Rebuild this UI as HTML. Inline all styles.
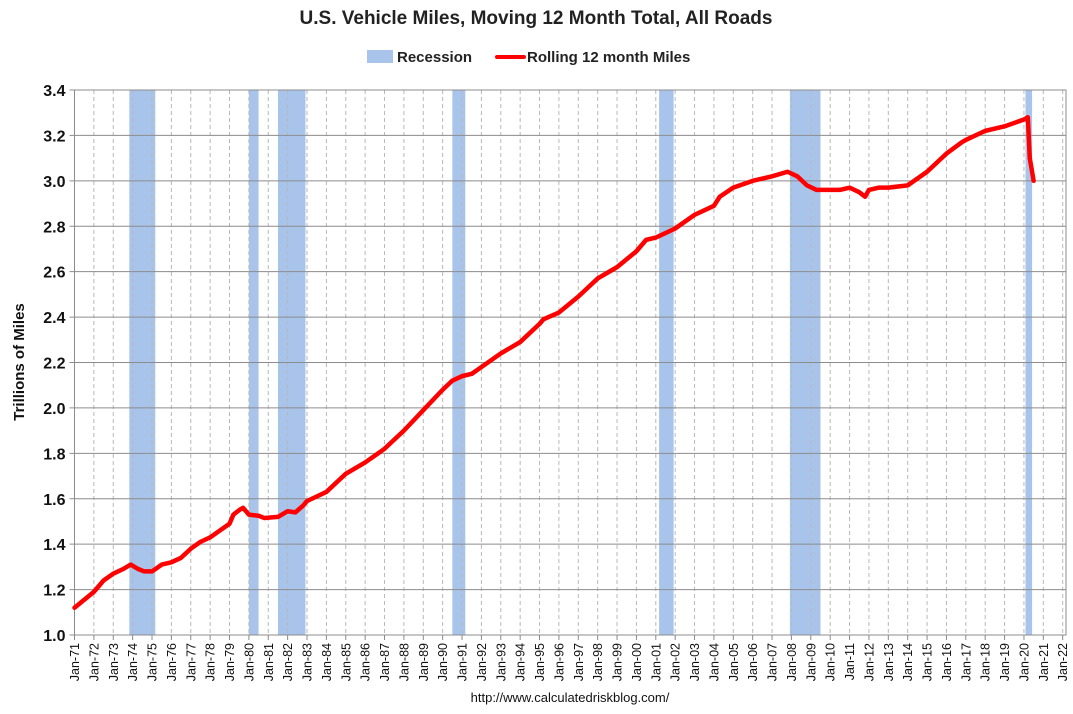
<!DOCTYPE html>
<html><head><meta charset="utf-8"><style>
body{margin:0;background:#fff;font-family:"Liberation Sans",Arial,sans-serif}
svg text{font-family:"Liberation Sans",Arial,sans-serif}
</style></head><body>
<svg id="chart" width="1073" height="709" xmlns="http://www.w3.org/2000/svg">
<text x="536" y="24" text-anchor="middle" font-size="19" font-weight="bold" fill="#222">U.S. Vehicle Miles, Moving 12 Month Total, All Roads</text>
<g>
<rect x="367" y="50" width="26" height="13" fill="#a9c4ea"/>
<text x="397" y="62" font-size="15" font-weight="bold" fill="#222">Recession</text>
<line x1="497" y1="57" x2="524" y2="57" stroke="#f00" stroke-width="4" stroke-linecap="round"/>
<text x="527" y="62" font-size="15" font-weight="bold" fill="#222">Rolling 12 month Miles</text>
</g>
<text transform="translate(24,362) rotate(-90)" text-anchor="middle" font-size="15" font-weight="bold" fill="#111">Trillions of Miles</text>
<text x="570" y="702" text-anchor="middle" font-size="13" fill="#111">http://www.calculatedriskblog.com/</text>
<g id="plot"></g>
</svg>
<script>
const recessionStarts=[1973.83,1980.0,1981.5,1990.5,2001.17,2007.92,2020.08];
const recessionEnds=[1975.17,1980.5,1982.92,1991.17,2001.92,2009.5,2020.42];
const years=[1971,1972,1972.5,1973,1973.5,1973.9,1974.3,1974.6,1975,1975.5,1976,1976.5,1977,1977.5,1978,1978.5,1979,1979.2,1979.5,1979.7,1980,1980.5,1980.8,1981.5,1982,1982.4,1982.8,1983,1983.5,1984,1985,1986,1987,1988,1989,1990,1990.5,1991,1991.5,1992,1993,1994,1995,1995.2,1996,1997,1998,1999,2000,2000.5,2001,2002,2003,2004,2004.3,2005,2006,2007,2007.8,2008.3,2008.8,2009.3,2010,2010.5,2011,2011.5,2011.8,2012,2012.5,2013,2014,2015,2016,2016.8,2017,2018,2019,2020,2020.2,2020.3,2020.5];
const miles=[1.12,1.19,1.24,1.27,1.29,1.31,1.29,1.28,1.28,1.31,1.32,1.34,1.38,1.41,1.43,1.46,1.49,1.53,1.55,1.56,1.53,1.525,1.515,1.52,1.545,1.54,1.57,1.59,1.61,1.63,1.71,1.76,1.82,1.9,1.99,2.08,2.12,2.14,2.15,2.18,2.24,2.29,2.37,2.39,2.42,2.49,2.57,2.62,2.69,2.74,2.75,2.79,2.85,2.89,2.93,2.97,3.0,3.02,3.04,3.02,2.98,2.96,2.96,2.96,2.97,2.95,2.93,2.96,2.97,2.97,2.98,3.04,3.12,3.17,3.18,3.22,3.24,3.27,3.28,3.1,3.0];
const yTicks=[1.0,1.2,1.4,1.6,1.8,2.0,2.2,2.4,2.6,2.8,3.0,3.2,3.4];
const ns="http://www.w3.org/2000/svg";
const L=74.5,R=1066,T=90,B=635;
const x=v=>L+(v-1971)*(1062.7-74.5)/51;
const y=v=>B-(v-1.0)*(B-T)/2.4;
const g=document.getElementById('plot');
function mk(t,a){const e=document.createElementNS(ns,t);for(const k in a)e.setAttribute(k,a[k]);g.appendChild(e);return e;}
recessionStarts.forEach((s,i)=>{const e=mk('rect',{x:x(s),y:T,width:x(recessionEnds[i])-x(s),height:B-T,fill:'#a9c4ea'});

});
for(let yr=1971;yr<=2022;yr++){
 const e=mk('line',{x1:x(yr),x2:x(yr),y1:T,y2:B,stroke:'#b8b8b8','stroke-dasharray':'4,3','stroke-width':1});
 
 
 const tk=mk('line',{x1:x(yr),x2:x(yr),y1:B,y2:B+5,stroke:'#888'});
 
 
 const lb=mk('text',{transform:`translate(${x(yr)+4.5},${B+8}) rotate(-90)`,'text-anchor':'end','font-size':12.5,fill:'#111'});
 lb.textContent='Jan-'+String(yr%100).padStart(2,'0');
 
 
}
yTicks.forEach(v=>{
 const e=mk('line',{x1:L-5,x2:R,y1:y(v),y2:y(v),stroke:'#8c8c8c','stroke-width':1});
 
 
 const t=mk('text',{x:L-9,y:y(v)+6,'text-anchor':'end','font-size':16,'font-weight':'bold',fill:'#111'});
 t.textContent=v.toFixed(1);
 
 
});
const fr=mk('rect',{x:L,y:T,width:R-L,height:B-T,fill:'none',stroke:'#8c8c8c'});


const p=mk('polyline',{points:years.map((yr,i)=>x(yr)+','+y(miles[i])).join(' '),fill:'none',stroke:'#f00','stroke-width':4.5,'stroke-linejoin':'round','stroke-linecap':'round'});


</script>
</body></html>
